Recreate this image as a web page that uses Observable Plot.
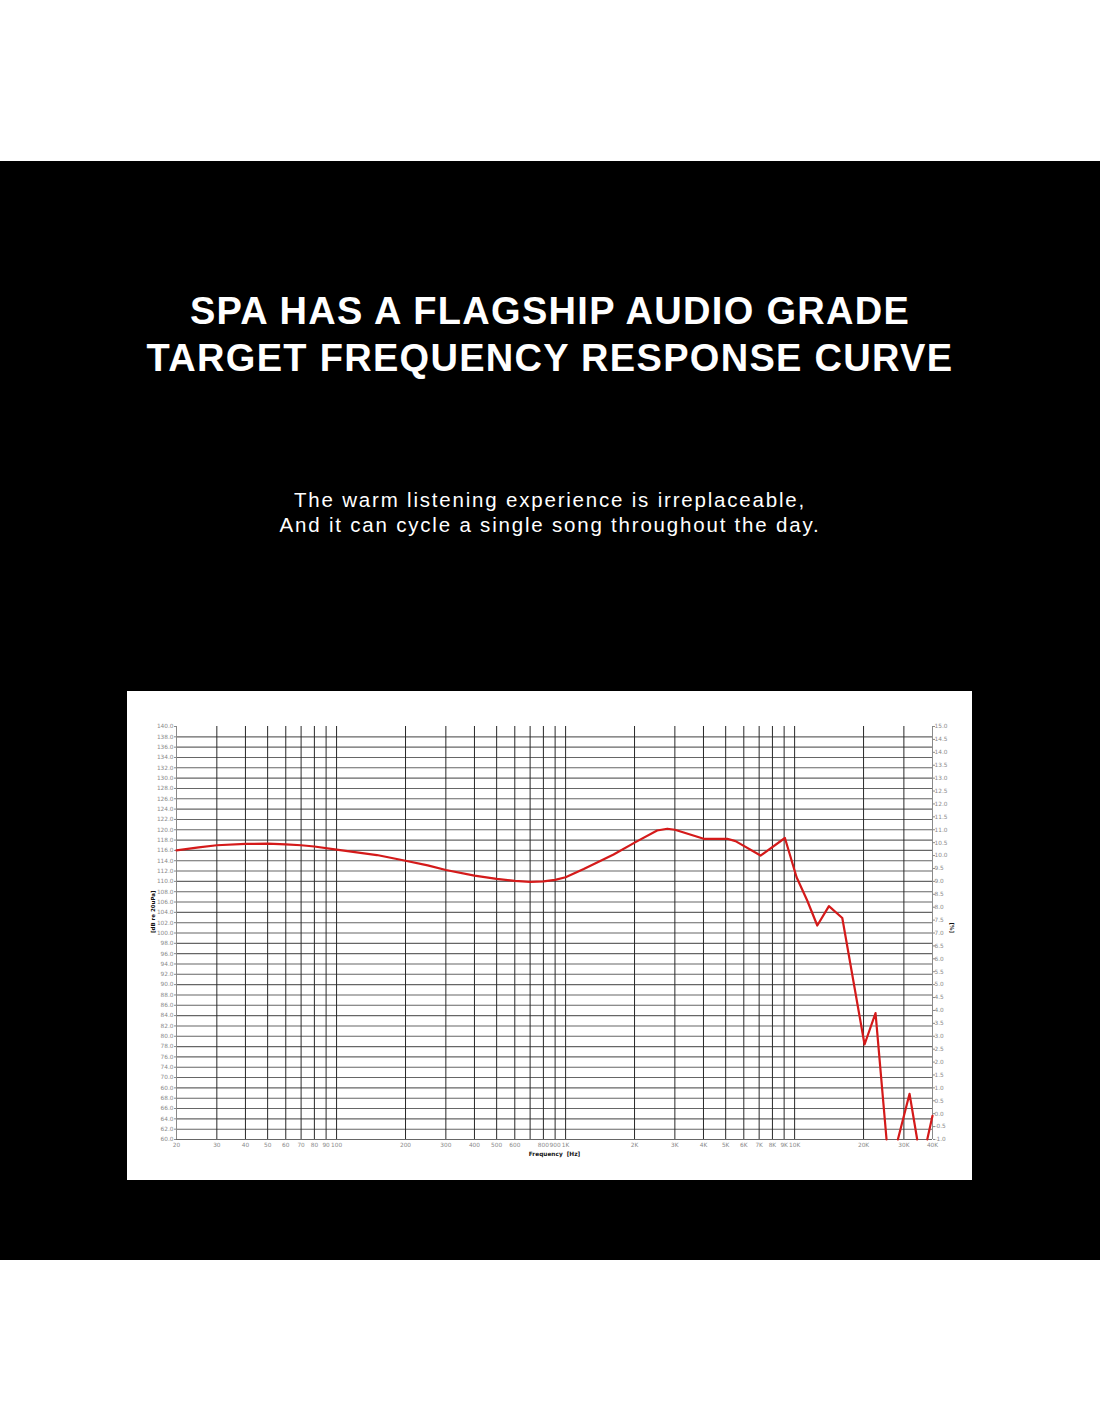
<!DOCTYPE html>
<html>
<head>
<meta charset="utf-8">
<script src="https://cdn.jsdelivr.net/npm/d3@7"></script>
<script src="https://cdn.jsdelivr.net/npm/@observablehq/plot@0.6"></script>
<style>
  html, body { margin: 0; padding: 0; background: #ffffff; }
  #page { position: relative; width: 1100px; height: 1422px; background: #ffffff; overflow: hidden; }
  #band { position: absolute; left: 0; top: 161px; width: 1100px; height: 1099px; background: #000000; }
  .title { position: absolute; left: 0; width: 1100px; text-align: center; color: #ffffff;
           font-family: "Liberation Sans", Arial, sans-serif; font-weight: bold; font-size: 38px;
           letter-spacing: 1.3px; line-height: 1; white-space: nowrap; }
  .sub { position: absolute; left: 0; width: 1100px; text-align: center; color: #ffffff;
         font-family: "Liberation Sans", Arial, sans-serif; font-size: 20.5px; letter-spacing: 1.8px;
         line-height: 1; white-space: nowrap; }
  #panel { position: absolute; left: 127px; top: 691px; width: 845px; height: 489px; background: #ffffff; }
  #panel svg { display: block; }
</style>
</head>
<body>
<div id="page">
  <div id="band"></div>
  <div class="title" style="top:292px">SPA HAS A FLAGSHIP AUDIO GRADE</div>
  <div class="title" style="top:339px">TARGET FREQUENCY RESPONSE CURVE</div>
  <div class="sub" style="top:490px">The warm listening experience is irreplaceable,</div>
  <div class="sub" style="top:515px">And it can cycle a single song throughout the day.</div>
  <div id="panel"></div>
</div>
<script>
// Frequency response curve (Hz, dB). null breaks the line where it leaves the plot.
const freqs = [20, 25, 30, 40, 50, 60, 70, 80, 100, 150, 200, 250, 300, 400, 500, 600, 700, 800, 900, 1000,
  1200, 1620, 2020, 2510, 2780, 3000, 4010, 5080, 5520, 7100, 9070, 10200, 11350, 12560, 14120, 16150,
  20200, 22560, 25200, 26500, 28240, 31760, 34300, 36000, 37940, 40000];
const levels = [116.0, 116.6, 117.0, 117.25, 117.3, 117.15, 117.0, 116.75, 116.15, 115.1, 114.0, 113.1, 112.2,
  111.1, 110.5, 110.1, 109.9, 110.0, 110.3, 110.8, 112.4, 115.2, 117.6, 119.85, 120.2, 120.0, 118.25, 118.25,
  117.8, 115.0, 118.4, 110.8, 106.3, 101.45, 105.2, 102.9, 78.4, 84.5, 60.0, null, 60.0, 68.85, 60.0, null,
  60.0, 64.6];

// Left axis ticks (dB) and their printed labels (as printed in the original)
const leftTicks = d3.range(60, 141, 2);
const leftLabels = ["60.0","62.0","64.0","66.0","68.0","60.0","70.0","74.0","76.0","78.0","80.0","82.0","84.0",
  "86.0","88.0","90.0","92.0","94.0","96.0","98.0","100.0","102.0","104.0","106.0","108.0","110.0","112.0",
  "114.0","116.0","118.0","120.0","122.0","124.0","126.0","128.0","130.0","132.0","134.0","136.0","138.0","140.0"];

// Right axis [%] labels, -1.0 .. 15.0 step 0.5
const rightLabels = ["-1.0","-0.5","0.0","0.5","1.0","1.5","2.0","2.5","3.0","3.5","4.0","4.5","5.0","5.5",
  "6.0","6.5","7.0","7.5","8.0","8.5","9.0","9.5","10.0","10.5","11.0","11.5","12.0","12.5","13.0","13.5",
  "14.0","14.5","15.0"];

// X axis ticks (Hz) and labels ("" = unlabeled)
const xTicks = [20,30,40,50,60,70,80,90,100,200,300,400,500,600,700,800,900,1000,2000,3000,4000,5000,6000,
  7000,8000,9000,10000,20000,30000,40000];
const xLabels = ["20","30","40","50","60","70","80","90","100","200","300","400","500","600","","800","900","1K",
  "2K","3K","4K","5K","6K","7K","8K","9K","10K","20K","30K","40K"];

const curve = freqs.map((f, i) => ({f, db: levels[i]}));
const leftMap = new Map(leftTicks.map((t, i) => [t, leftLabels[i]]));
// right axis: percent p maps onto the same vertical range as dB 60..140
const rightTicks = rightLabels.map(s => 60 + (parseFloat(s) + 1) * 5);
const rightMap = new Map(rightTicks.map((t, i) => [t, rightLabels[i]]));
const hGrid = leftTicks.filter(t => t < 140);
const vGrid = xTicks.filter(t => t > 20 && t < 40000);
const xTickRows = xTicks.map((t, i) => ({t, label: xLabels[i]}));

const chart = Plot.plot({
  width: 845,
  height: 489,
  marginLeft: 49,
  marginRight: 40,
  marginTop: 35,
  marginBottom: 41,
  style: {background: "#ffffff", fontFamily: "DejaVu Sans", fontSize: "5.8px", color: "#888", overflow: "visible"},
  x: {type: "log", domain: [20, 40000], axis: null},
  y: {domain: [60, 140], axis: null},
  marks: [
    Plot.ruleY(hGrid, {stroke: "#666", strokeWidth: 1.1}),
    Plot.ruleX(vGrid, {stroke: "#2a2a2a", strokeWidth: 1}),
    Plot.ruleX([20, 40000], {stroke: "#8a8a8a", strokeWidth: 1}),
    Plot.axisY({anchor: "left", ticks: leftTicks, tickFormat: d => leftMap.get(d), tickSize: 2, tickPadding: 1,
      stroke: "#8a8a8a", fill: "#8a8a8a", label: null}),
    Plot.axisY({anchor: "right", ticks: rightTicks, tickFormat: d => rightMap.get(d), tickSize: 2, tickPadding: 0,
      stroke: "#8a8a8a", fill: "#8a8a8a", label: null}),
    Plot.text(xTickRows, {x: "t", text: "label", frameAnchor: "bottom", dy: 7, fill: "#8a8a8a",
      fontSize: 5.8}),
    Plot.text(["[dB re 20uPa]"], {frameAnchor: "left", rotate: -90, dx: -23, fill: "#111", fontWeight: "bold",
      fontSize: 5.5}),
    Plot.text(["[%]"], {frameAnchor: "right", rotate: 90, dx: 19, fill: "#111", fontWeight: "bold", fontSize: 5.5}),
    Plot.text(["Frequency  [Hz]"], {frameAnchor: "bottom", dy: 16, fill: "#111", fontWeight: "bold", fontSize: 5.8}),
    Plot.line(curve, {x: "f", y: "db", stroke: "#d41a1a", strokeWidth: 2.2, curve: "linear"})
  ]
});
document.getElementById("panel").appendChild(chart);
</script>
</body>
</html>
